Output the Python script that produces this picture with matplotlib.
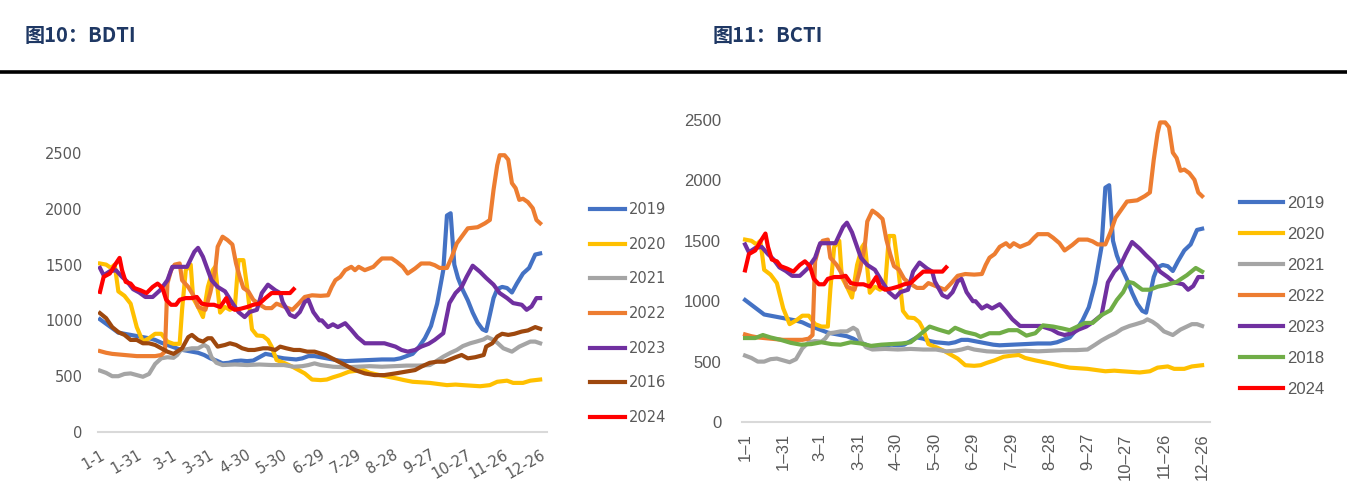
import matplotlib
matplotlib.use("Agg")
import matplotlib.pyplot as plt

# ---- data (day-of-year index 0 = 1-1) ----
TICK_DAYS = [0, 30, 59, 89, 119, 149, 179, 209, 239, 269, 299, 329, 359]
TICK_LABELS = ["1-1", "1-31", "3-1", "3-31", "4-30", "5-30", "6-29",
               "7-29", "8-28", "9-27", "10-27", "11-26", "12-26"]

D2019 = [0, 5, 10, 15, 20, 25, 30, 35, 40, 45, 50, 55, 60, 65, 70, 75, 80, 85, 90, 95,
         100, 105, 110, 115, 120, 125, 130, 135, 140, 145, 150, 155, 160, 165, 170, 175,
         180, 185, 190, 195, 200, 210, 220, 230, 240, 245, 250, 255, 260, 265, 270, 275,
         280, 283, 286, 289, 292, 296, 300, 304, 308, 312, 315, 318, 321, 324, 328, 332,
         336, 340, 345, 350, 355, 359]
V2019 = [1010, 970, 930, 890, 880, 870, 860, 850, 840, 825, 800, 780, 760, 740, 730, 720,
         710, 690, 660, 640, 615, 620, 635, 640, 635, 640, 670, 700, 690, 670, 660, 655,
         650, 660, 680, 680, 670, 660, 650, 640, 635, 640, 645, 650, 650, 660, 680, 700,
         760, 840, 950, 1150, 1450, 1940, 1960, 1500, 1380, 1270, 1180, 1070, 980, 920,
         905, 1050, 1200, 1280, 1300, 1290, 1250, 1330, 1420, 1470, 1590, 1600]

D2020 = [0, 5, 9, 12, 15, 20, 25, 30, 35, 40, 45, 50, 55, 60, 65, 67, 70, 74, 76, 80, 84,
         88, 92, 94, 98, 102, 106, 110, 113, 117, 120, 124, 128, 133, 137, 140, 144, 151,
         157, 162, 167, 173, 180, 185, 190, 196, 203, 210, 215, 220, 228, 235, 242, 248,
         255, 262, 269, 276, 283, 290, 296, 303, 310, 318, 324, 332, 337, 345, 351, 359]
V2020 = [1510, 1500, 1470, 1500, 1260, 1220, 1150, 940, 810, 840, 880, 880, 810, 790, 790,
         1100, 1450, 1500, 1200, 1120, 1030, 1300, 1450, 1480, 1070, 1120, 1095, 1120, 1540,
         1540, 1300, 920, 865, 860, 825, 765, 645, 615, 585, 555, 525, 470, 465, 470, 490,
         510, 540, 550, 555, 530, 510, 495, 480, 465, 450, 445, 440, 430, 420, 425, 420,
         415, 410, 420, 450, 460, 440, 440, 460, 470]

D2021 = [0, 5, 10, 15, 20, 25, 30, 35, 40, 45, 50, 55, 60, 63, 66, 70, 75, 80, 85, 88, 91,
         95, 100, 110, 120, 130, 140, 150, 158, 165, 170, 175, 180, 190, 200, 210, 220,
         230, 240, 250, 260, 269, 275, 280, 286, 291, 296, 302, 307, 313, 316, 320, 324,
         329, 336, 342, 347, 351, 355, 359]
V2021 = [550, 530, 500, 500, 520, 525, 510, 495, 520, 610, 660, 670, 665, 690, 735, 740,
         750, 750, 780, 760, 670, 620, 600, 605, 600, 605, 600, 600, 585, 590, 600, 615,
         600, 585, 580, 585, 590, 585, 590, 595, 595, 600, 640, 675, 710, 735, 770, 795,
         810, 830, 850, 830, 800, 750, 720, 765, 790, 810, 810, 795]

D2022 = [0, 5, 10, 15, 20, 25, 30, 35, 40, 45, 50, 53, 55, 58, 61, 65, 67, 72, 77, 80, 86,
         90, 94, 96, 100, 104, 108, 111, 114, 117, 121, 125, 129, 135, 140, 144, 151, 157,
         162, 167, 173, 180, 186, 189, 192, 196, 200, 205, 208, 211, 216, 223, 227, 230,
         238, 242, 247, 251, 257, 262, 269, 273, 277, 283, 287, 291, 295, 300, 308, 314,
         318, 321, 324, 326, 330, 333, 336, 339, 342, 345, 349, 353, 356, 359]
V2022 = [725, 710, 700, 695, 690, 685, 680, 680, 680, 680, 690, 720, 1330, 1450, 1500,
         1510, 1360, 1300, 1210, 1120, 1095, 1250, 1450, 1660, 1750, 1720, 1680, 1510, 1390,
         1290, 1260, 1185, 1150, 1110, 1110, 1150, 1120, 1095, 1150, 1210, 1225, 1220, 1225,
         1300, 1360, 1390, 1450, 1480, 1450, 1480, 1450, 1480, 1525, 1555, 1555, 1525, 1480,
         1420, 1465, 1510, 1510, 1495, 1470, 1470, 1570, 1690, 1750, 1825, 1835, 1870, 1900,
         2170, 2390, 2480, 2480, 2440, 2230, 2185, 2080, 2090, 2060, 2005, 1900, 1870]

D2023 = [0, 3, 8, 13, 18, 22, 27, 32, 37, 43, 49, 55, 59, 67, 71, 75, 77, 80, 84, 88, 91,
         96, 102, 108, 113, 118, 122, 128, 132, 137, 143, 147, 149, 155, 159, 163, 167, 170,
         174, 179, 181, 186, 190, 194, 200, 205, 210, 216, 224, 232, 241, 246, 251, 257,
         262, 268, 273, 280, 285, 290, 295, 299, 304, 310, 315, 321, 326, 332, 337, 344,
         348, 352, 356, 359]
V2023 = [1470, 1405, 1440, 1450, 1390, 1350, 1280, 1250, 1210, 1210, 1270, 1360, 1480,
         1480, 1480, 1570, 1615, 1650, 1570, 1450, 1360, 1300, 1260, 1155, 1075, 1030, 1075,
         1095, 1245, 1320, 1270, 1245, 1165, 1050, 1030, 1075, 1165, 1185, 1075, 1000, 1000,
         940, 965, 940, 975, 915, 850, 795, 795, 795, 765, 735, 720, 735, 765, 790, 825,
         885, 1155, 1245, 1300, 1390, 1490, 1435, 1380, 1320, 1245, 1200, 1155, 1140, 1095,
         1125, 1200, 1200]

D2016 = [0, 5, 10, 15, 20, 25, 30, 35, 40, 45, 50, 55, 60, 67, 72, 75, 80, 84, 88, 91, 96,
         102, 106, 111, 116, 121, 126, 133, 137, 143, 147, 152, 158, 163, 169, 175, 184,
         192, 200, 208, 216, 224, 232, 241, 249, 257, 262, 269, 275, 281, 290, 295, 300,
         306, 313, 315, 320, 324, 328, 333, 338, 344, 349, 355, 359]
V2016 = [1065, 1020, 940, 895, 870, 825, 825, 795, 795, 780, 750, 720, 700, 750, 850, 870,
         825, 810, 840, 840, 765, 780, 795, 780, 750, 735, 735, 750, 750, 735, 765, 750,
         735, 735, 720, 720, 690, 645, 600, 555, 525, 510, 510, 525, 540, 555, 585, 620,
         630, 630, 670, 690, 660, 670, 690, 765, 795, 855, 880, 870, 880, 900, 910, 940, 925]

D2018 = [0, 8, 14, 20, 28, 36, 44, 52, 60, 68, 75, 83, 91, 99, 107, 115, 123, 130, 137,
         145, 152, 160, 165, 173, 181, 185, 192, 200, 207, 214, 221, 228, 234, 242, 249,
         255, 261, 267, 273, 280, 287, 292, 297, 301, 305, 312, 318, 324, 331, 339, 347,
         354, 359]
V2018 = [695, 695, 720, 700, 680, 655, 640, 645, 660, 645, 640, 660, 650, 630, 640, 645,
         650, 660, 720, 790, 765, 740, 780, 745, 725, 705, 735, 735, 760, 760, 715, 735,
         800, 790, 775, 760, 790, 820, 820, 885, 925, 1010, 1075, 1160, 1150, 1095, 1095,
         1120, 1135, 1160, 1215, 1275, 1245]

D2024 = [0, 3, 8, 13, 16, 18, 21, 25, 28, 33, 38, 43, 47, 51, 54, 58, 62, 65, 70, 75, 79,
         83, 88, 93, 98, 103, 106, 110, 115, 120, 125, 130, 135, 140, 145, 150, 155, 158]
V2024 = [1255, 1390, 1420, 1510, 1560, 1450, 1345, 1330, 1290, 1270, 1245, 1300, 1330,
         1290, 1185, 1140, 1140, 1185, 1200, 1200, 1210, 1150, 1140, 1140, 1120, 1200, 1120,
         1095, 1105, 1120, 1140, 1150, 1200, 1245, 1245, 1245, 1245, 1280]

COLORS = {"2019": "#4472C4", "2020": "#FFC000", "2021": "#A5A5A5", "2022": "#ED7D31",
          "2023": "#7030A0", "2016": "#9E480E", "2018": "#70AD47", "2024": "#FF0000"}

LEFT_SERIES = [("2019", D2019, V2019), ("2020", D2020, V2020), ("2021", D2021, V2021),
               ("2022", D2022, V2022), ("2023", D2023, V2023), ("2016", D2016, V2016),
               ("2024", D2024, V2024)]
RIGHT_SERIES = [("2019", D2019, V2019), ("2020", D2020, V2020), ("2021", D2021, V2021),
                ("2022", D2022, V2022), ("2023", D2023, V2023), ("2018", D2018, V2018),
                ("2024", D2024, V2024)]

W, H = 1347, 500
TXT = "#595959"
CJK = ["Noto Sans CJK SC", "DejaVu Sans"]

fig = plt.figure(figsize=(W / 100, H / 100), dpi=100)

# titles and rule
fig.text(25 / W, 1 - 35 / H, "图10：BDTI", family=CJK, fontsize=14.5, fontweight="bold",
         color="#1F3864", va="center", ha="left")
fig.text(713 / W, 1 - 35 / H, "图11：BCTI", family=CJK, fontsize=14.5, fontweight="bold",
         color="#1F3864", va="center", ha="left")
fig.add_artist(plt.Line2D([0, 1], [1 - 72 / H, 1 - 72 / H], color="black", lw=2.6,
                          transform=fig.transFigure))


def style_axes(ax, font, size, ypad):
    for s in ("top", "right", "left"):
        ax.spines[s].set_visible(False)
    ax.spines["bottom"].set_color("#D9D9D9")
    ax.spines["bottom"].set_linewidth(1.5)
    ax.set_ylim(0, 2500)
    ax.set_yticks([0, 500, 1000, 1500, 2000, 2500])
    ax.tick_params(length=0, colors=TXT, labelsize=size)
    for lab in ax.get_yticklabels():
        lab.set_family(font)
    ax.tick_params(axis="y", pad=ypad)


# left: BDTI
axl = fig.add_axes([98 / W, 1 - 432 / H, 449 / W, 279 / H])
for name, d, v in LEFT_SERIES:
    axl.plot(d, v, color=COLORS[name], lw=3, label=name, solid_joinstyle="round")
axl.set_xlim(-1.6, 364.6)
axl.set_xticks(TICK_DAYS, TICK_LABELS)
style_axes(axl, "DejaVu Sans", 10.5, 11)
axl.tick_params(axis="x", pad=11)
for lab in axl.get_xticklabels():
    lab.set_rotation(30)
    lab.set_ha("right")
    lab.set_va("top")
    lab.set_rotation_mode("anchor")
fig.legend(*axl.get_legend_handles_labels(), loc="center left",
           bbox_to_anchor=(590 / W, 1 - 313.5 / H), frameon=False, fontsize=10.5,
           labelspacing=1.35, handlelength=2.4, handletextpad=0.3, borderpad=0,
           borderaxespad=0, labelcolor=TXT)

# right: BCTI
axr = fig.add_axes([742 / W, 1 - 422 / H, 468 / W, 302 / H])
for name, d, v in RIGHT_SERIES:
    axr.plot(d, v, color=COLORS[name], lw=3, label=name, solid_joinstyle="round")
axr.set_xlim(-2.4, 365.2)
axr.set_xticks(TICK_DAYS, [t.replace("-", "–") for t in TICK_LABELS])
style_axes(axr, "Liberation Sans", 12, 15)
axr.tick_params(axis="x", pad=8, labelsize=12)
for lab in axr.get_xticklabels():
    lab.set_rotation(90)
    lab.set_ha("center")
    lab.set_va("top")
    lab.set_family("Liberation Sans")
fig.legend(*axr.get_legend_handles_labels(), loc="center left",
           bbox_to_anchor=(1240 / W, 1 - 296.5 / H), frameon=False,
           prop={"family": "Liberation Sans", "size": 12},
           labelspacing=0.96, handlelength=2.6, handletextpad=0.25, borderpad=0,
           borderaxespad=0, labelcolor=TXT)

fig.savefig("out.png", dpi=100)
